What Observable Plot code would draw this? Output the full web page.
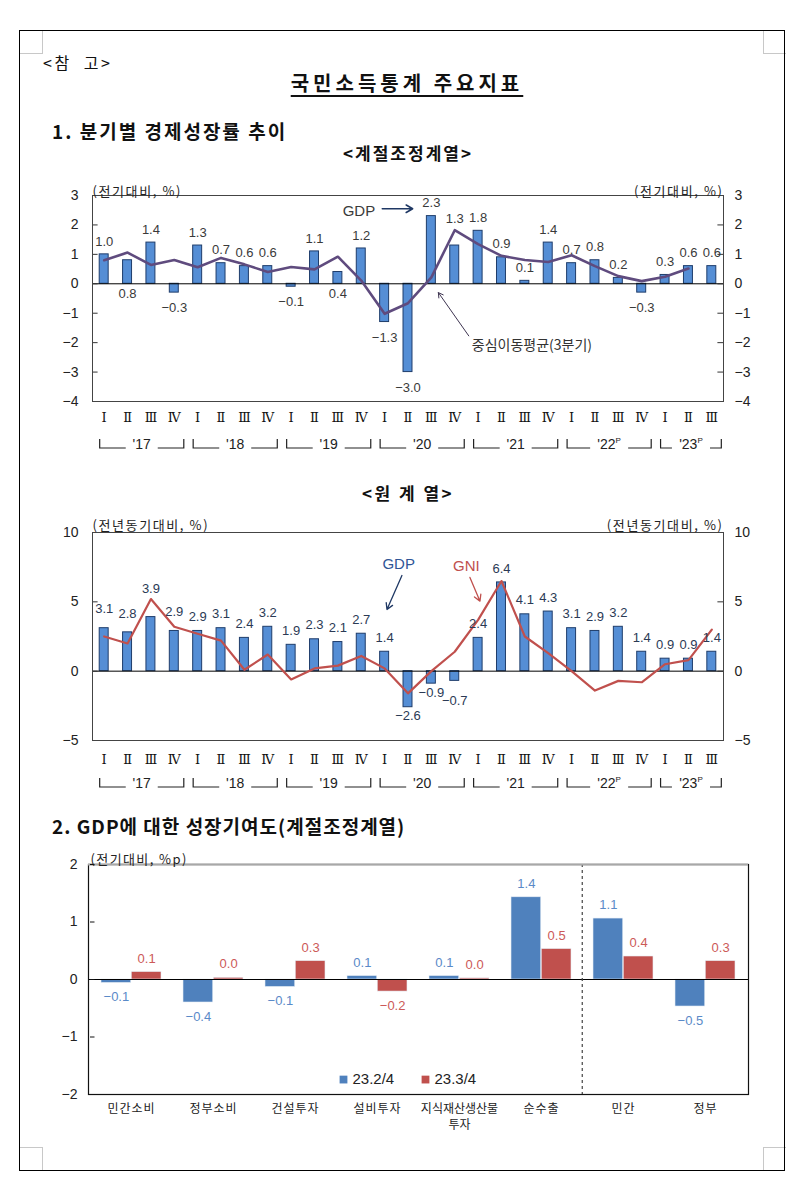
<!DOCTYPE html>
<html><head><meta charset="utf-8">
<script src="https://cdn.jsdelivr.net/npm/d3@7"></script>
<script src="https://cdn.jsdelivr.net/npm/@observablehq/plot@0.6"></script>
<style>
html,body{margin:0;padding:0;background:#fff;}
body{width:806px;height:1191px;position:relative;overflow:hidden;font-family:"Noto Sans CJK KR","Noto Sans",sans-serif;color:#111;}
.abs{position:absolute;white-space:nowrap;line-height:1;}
.chart{position:absolute;left:0;}
.border{position:absolute;left:19px;top:30px;width:766px;height:1141px;border:1px solid #000;box-sizing:border-box;pointer-events:none;z-index:5;}
.corner{position:absolute;width:23px;height:23px;border:1px solid #c8c8c8;box-sizing:border-box;pointer-events:none;z-index:4;}
</style></head>
<body>
<div class="border"></div>
<div class="corner" style="left:20px;top:31px;border-left:none;border-top:none;"></div>
<div class="corner" style="left:763px;top:31px;border-right:none;border-top:none;"></div>
<div class="corner" style="left:20px;top:1147px;border-left:none;border-bottom:none;"></div>
<div class="corner" style="left:763px;top:1147px;border-right:none;border-bottom:none;"></div>

<div class="abs" style="left:43px;top:54px;font-size:16px;letter-spacing:2.5px;">&lt;참&nbsp;&nbsp;고&gt;</div>
<div class="abs" style="left:4px;width:806px;text-align:center;top:73px;font-size:20px;font-weight:bold;letter-spacing:4px;text-decoration:underline;text-underline-offset:4px;">국민소득통계 주요지표</div>
<div class="abs" style="left:52px;top:121px;font-size:19px;font-weight:bold;letter-spacing:2px;">1. 분기별 경제성장률 추이</div>
<div class="abs" style="left:2px;width:812px;text-align:center;top:144px;font-size:17px;font-weight:bold;letter-spacing:2px;">&lt;계절조정계열&gt;</div>
<div id="c1" class="chart" style="top:170px;"></div>
<div class="abs" style="left:2px;width:812px;text-align:center;top:484px;font-size:17px;font-weight:bold;letter-spacing:2.5px;">&lt;원 계 열&gt;</div>
<div id="c2" class="chart" style="top:505px;"></div>
<div class="abs" style="left:52px;top:816px;font-size:19px;font-weight:bold;letter-spacing:1px;">2. GDP에 대한 성장기여도(계절조정계열)</div>
<div id="c3" class="chart" style="top:840px;"></div>

<script>
// ---------------- DATA ----------------
const quarters = ["17Q1","17Q2","17Q3","17Q4","18Q1","18Q2","18Q3","18Q4","19Q1","19Q2","19Q3","19Q4","20Q1","20Q2","20Q3","20Q4","21Q1","21Q2","21Q3","21Q4","22Q1","22Q2","22Q3","22Q4","23Q1","23Q2","23Q3"];
const quarterTicks = ["Ⅰ","Ⅱ","Ⅲ","Ⅳ"];
const yearLabels = ["'17","'18","'19","'20","'21","'22","'23"];
const yearPrelim = [false,false,false,false,false,true,true];

// 1. seasonally adjusted q/q growth (%)
const saGrowth = [1.0,0.8,1.4,-0.3,1.3,0.7,0.6,0.6,-0.1,1.1,0.4,1.2,-1.3,-3.0,2.3,1.3,1.8,0.9,0.1,1.4,0.7,0.8,0.2,-0.3,0.3,0.6,0.6];
// centred 3-quarter moving average (17Q1 .. 23Q2)
const saMovingAvg = [0.80,1.06,0.64,0.81,0.56,0.88,0.66,0.40,0.57,0.49,0.92,0.11,-1.02,-0.66,0.22,1.82,1.35,0.95,0.81,0.74,0.97,0.60,0.26,0.09,0.24,0.52];
const saTicks = [-4,-3,-2,-1,0,1,2,3];

// 2. original series y/y growth (%)
const yoyGDP = [3.1,2.8,3.9,2.9,2.9,3.1,2.4,3.2,1.9,2.3,2.1,2.7,1.4,-2.6,-0.9,-0.7,2.4,6.4,4.1,4.3,3.1,2.9,3.2,1.4,0.9,0.9,1.4];
const yoyGNI = [2.5,2.0,5.2,3.2,2.7,2.2,0.1,1.2,-0.6,0.2,0.4,1.1,0.2,-1.6,0.0,1.4,3.7,6.5,2.5,1.3,0.0,-1.4,-0.7,-0.8,0.5,0.8,3.0];
const yoyTicks = [-5,0,5,10];

// 3. contributions to GDP growth (%p)
const contribCats = ["민간소비","정부소비","건설투자","설비투자","지식재산생산물\n투자","순수출","민간","정부"];
const contribSeries = ["23.2/4","23.3/4"];
const contribQ2 = [-0.06,-0.40,-0.13,0.06,0.06,1.43,1.06,-0.47];
const contribQ3 = [0.13,0.03,0.32,-0.21,0.02,0.53,0.40,0.32];
const contribTicks = [-2,-1,0,1,2];

// label placement tweaks (which labels sit elsewhere than just above/below their bar)
const sa_labelUnderAxis = ["17Q2","19Q3"];
const sa_labelRaised = ["20Q4"];
const yoy_labelRaised = ["17Q1","17Q2","17Q4"];
const yoy_labelRaisedMore = ["17Q3"];
const yoy_labelLowered = ["20Q4"];

// annotations (data coordinates: x = quarter index, y = value)
const saAnnot = {gdpText:{x:10.9,y:2.46}, gdpArrow:{x1:11.9,y1:2.55,x2:13.2,y2:2.55},
                 maText:{x:15.73,y:-2.11}, maArrow:{x1:15.6,y1:-1.77,x2:14.3,y2:-0.30}};
const yoyAnnot = {gdpText:{x:12.6,y:7.74}, gdpArrow:{x1:12.74,y1:6.9,x2:12.1,y2:4.45},
                  gniText:{x:15.5,y:7.57}, gniArrow:{x1:15.65,y1:6.76,x2:16.08,y2:5.05}};

// ---------------- HELPERS ----------------
const NUM = "'Liberation Sans', Arial, sans-serif";
const KR = "'Noto Sans CJK KR', sans-serif";
const ROMAN = "'DejaVu Serif', 'Noto Sans CJK KR', serif";
const minus = s => String(s).replace("-", "−");
const f1 = v => minus(v.toFixed(1));
const rows = vals => vals.map((v, i) => ({q: quarters[i], i, v}));

function spaceUnits(svg, spacing) {
  d3.select(svg).selectAll("text").filter(function() { return /^\(/.test(this.textContent); })
    .attr("letter-spacing", spacing);
}

function yearBrackets(offsetY) {
  return (index, scales, values, dims) => {
    const x = scales.x;
    const yl = dims.height - dims.marginBottom + offsetY;
    const g = d3.create("svg:g");
    yearLabels.forEach((lab, k) => {
      const yy = lab.slice(1);
      const idx = quarters.map((q, i) => q.startsWith(yy) ? i : -1).filter(i => i >= 0);
      const xl = x(idx[0]) - 4, xr = x(idx[idx.length - 1]) + 10, xm = (xl + xr) / 2;
      const half = (yearPrelim[k] ? 12 : 9) + 7;
      g.append("path").attr("fill", "none").attr("stroke", "#222").attr("stroke-width", 1.2)
        .attr("d", `M${xl},${yl - 9}V${yl}H${xm - half}M${xm + half},${yl}H${xr}V${yl - 9}`);
      const t = g.append("text").attr("x", xm).attr("y", yl + 1).attr("text-anchor", "middle")
        .attr("fill", "#222").attr("font-family", NUM).attr("font-size", 14).text(lab);
      if (yearPrelim[k]) t.append("tspan").attr("font-size", 8).attr("dy", -6).text("P");
    });
    return g.node();
  };
}

function quarterAxis(dy) {
  return Plot.text(quarters, {x: (d, i) => i, frameAnchor: "bottom", dy,
    text: d => quarterTicks[+d.slice(-1) - 1], fontFamily: ROMAN, fontSize: 13, fill: "#111"});
}

function yAxisBoth(ticks, xDomain, tickLen, fmt) {
  return [
    Plot.text(ticks, {y: d => d, frameAnchor: "left", dx: -14, textAnchor: "end", text: fmt, fontFamily: NUM, fontSize: 14, fill: "#222"}),
    Plot.text(ticks, {y: d => d, frameAnchor: "right", dx: 11, textAnchor: "start", text: fmt, fontFamily: NUM, fontSize: 14, fill: "#222"}),
    Plot.ruleY(ticks, {y: d => d, x1: xDomain[0], x2: xDomain[0] + tickLen, stroke: "#333"}),
    Plot.ruleY(ticks, {y: d => d, x1: xDomain[1] - tickLen, x2: xDomain[1], stroke: "#333"})
  ];
}

const xDomain = [-0.5, quarters.length - 0.5];
const barInset = 7.2;

// ---------------- CHART 1 ----------------
{
  const data = rows(saGrowth);
  const ma = saMovingAvg.map((v, i) => ({i, v}));
  const above = data.filter(d => d.v >= 0 && !sa_labelUnderAxis.includes(d.q) && !sa_labelRaised.includes(d.q));
  const below = data.filter(d => d.v < 0);
  const under = data.filter(d => sa_labelUnderAxis.includes(d.q));
  const raised = data.filter(d => sa_labelRaised.includes(d.q));
  const lab = {text: d => f1(d.v), fontFamily: NUM, fontSize: 13, fill: "#3a3a3a", x: "i"};
  const chart = Plot.plot({
    width: 806, height: 300, marginLeft: 92, marginRight: 83, marginTop: 25, marginBottom: 69,
    style: {background: "transparent", overflow: "visible"},
    x: {domain: xDomain, axis: null},
    y: {domain: [-4, 3], axis: null},
    marks: [
      Plot.rect(data, {x1: d => d.i - 0.5, x2: d => d.i + 0.5, y1: 0, y2: "v", insetLeft: barInset, insetRight: barInset, fill: "#558ED5", stroke: "#1F3D6B", strokeWidth: 1}),
      Plot.ruleY([0], {stroke: "#000", strokeWidth: 1}),
      Plot.line(ma, {x: "i", y: "v", stroke: "#5F4B7E", strokeWidth: 2.6, strokeLinejoin: "round"}),
      Plot.text(above, {...lab, y: "v", dy: -13}),
      Plot.text(raised, {...lab, y: "v", dy: -27}),
      Plot.text(below, {...lab, y: "v", dy: 15.5}),
      Plot.text(under, {...lab, y: 0, dy: 10}),
      ...yAxisBoth(saTicks, xDomain, 0.24, d => minus(d)),
      Plot.frame({stroke: "#444", strokeWidth: 1}),
      Plot.text(["(전기대비, %)"], {frameAnchor: "top-left", dy: -9, textAnchor: "start", fontFamily: KR, fontSize: 13, fill: "#222"}),
      Plot.text(["(전기대비, %)"], {frameAnchor: "top-right", dy: -9, textAnchor: "end", fontFamily: KR, fontSize: 13, fill: "#222"}),
      Plot.text([saAnnot.gdpText], {x: "x", y: "y", text: () => "GDP", fontFamily: NUM, fontSize: 15, fill: "#3a3a3a"}),
      Plot.arrow([saAnnot.gdpArrow], {x1: "x1", y1: "y1", x2: "x2", y2: "y2", stroke: "#1F3864", strokeWidth: 1.6, headLength: 7}),
      Plot.text([saAnnot.maText], {x: "x", y: "y", text: () => "중심이동평균(3분기)", textAnchor: "start", fontFamily: KR, fontSize: 14, fill: "#333"}),
      Plot.arrow([saAnnot.maArrow], {x1: "x1", y1: "y1", x2: "x2", y2: "y2", stroke: "#3E3551", strokeWidth: 1, headLength: 8}),
      quarterAxis(20),
      yearBrackets(47)
    ]
  });
  spaceUnits(chart, 1.6);
  document.getElementById("c1").append(chart);
}

// ---------------- CHART 2 ----------------
{
  const data = rows(yoyGDP);
  const gni = rows(yoyGNI);
  const special = [...yoy_labelRaised, ...yoy_labelRaisedMore, ...yoy_labelLowered];
  const above = data.filter(d => d.v >= 0 && !special.includes(d.q));
  const raised = data.filter(d => yoy_labelRaised.includes(d.q));
  const raisedMore = data.filter(d => yoy_labelRaisedMore.includes(d.q));
  const below = data.filter(d => d.v < 0 && !special.includes(d.q));
  const lowered = data.filter(d => yoy_labelLowered.includes(d.q));
  const lab = {text: d => f1(d.v), fontFamily: NUM, fontSize: 13, fill: "#2B3A55", x: "i", y: "v"};
  const chart = Plot.plot({
    width: 806, height: 300, marginLeft: 92, marginRight: 83, marginTop: 27, marginBottom: 65,
    style: {background: "transparent", overflow: "visible"},
    x: {domain: xDomain, axis: null},
    y: {domain: [-5, 10], axis: null},
    marks: [
      Plot.rect(data, {x1: d => d.i - 0.5, x2: d => d.i + 0.5, y1: 0, y2: "v", insetLeft: barInset, insetRight: barInset, fill: "#558ED5", stroke: "#1F3D6B", strokeWidth: 1}),
      Plot.ruleY([0], {stroke: "#000", strokeWidth: 1}),
      Plot.line(gni, {x: "i", y: "v", stroke: "#C0504D", strokeWidth: 2.2, strokeLinejoin: "round"}),
      Plot.text(above, {...lab, dy: -14}),
      Plot.text(raised, {...lab, dy: -19}),
      Plot.text(raisedMore, {...lab, dy: -28}),
      Plot.text(below, {...lab, dy: 9}),
      Plot.text(lowered, {...lab, dy: 20}),
      ...yAxisBoth(yoyTicks, xDomain, 0.24, d => minus(d)),
      Plot.frame({stroke: "#444", strokeWidth: 1}),
      Plot.text(["(전년동기대비, %)"], {frameAnchor: "top-left", dy: -12, textAnchor: "start", fontFamily: KR, fontSize: 13, fill: "#222"}),
      Plot.text(["(전년동기대비, %)"], {frameAnchor: "top-right", dy: -12, textAnchor: "end", fontFamily: KR, fontSize: 13, fill: "#222"}),
      Plot.text([yoyAnnot.gdpText], {x: "x", y: "y", text: () => "GDP", fontFamily: NUM, fontSize: 15, fill: "#2F5597"}),
      Plot.arrow([yoyAnnot.gdpArrow], {x1: "x1", y1: "y1", x2: "x2", y2: "y2", stroke: "#1F3864", strokeWidth: 1.3, headLength: 8}),
      Plot.text([yoyAnnot.gniText], {x: "x", y: "y", text: () => "GNI", fontFamily: NUM, fontSize: 15, fill: "#C0504D"}),
      Plot.arrow([yoyAnnot.gniArrow], {x1: "x1", y1: "y1", x2: "x2", y2: "y2", stroke: "#C0504D", strokeWidth: 1.3, headLength: 8}),
      quarterAxis(23),
      yearBrackets(47)
    ]
  });
  spaceUnits(chart, 1.6);
  document.getElementById("c2").append(chart);
}

// ---------------- CHART 3 ----------------
{
  const colors = ["#4F81BD", "#C0504D"];
  const labColors = ["#5A8AC8", "#CC5A58"];
  const series = [contribQ2, contribQ3];
  const bw = (806 - 88 - 58) / contribCats.length;
  const half = bw / 2, outer = 11;
  const marks = [];
  series.forEach((vals, s) => {
    const data = vals.map((v, i) => ({c: contribCats[i], v}));
    const inset = s === 0 ? {insetLeft: outer, insetRight: half} : {insetLeft: half, insetRight: outer};
    const dx = (s === 0 ? -1 : 1) * (half - outer) / 2;
    marks.push(Plot.barY(data, {x: "c", y: "v", fill: colors[s], stroke: "#e8eef6", strokeWidth: 0.6, ...inset}));
    marks.push(Plot.text(data.filter(d => d.v >= 0), {x: "c", y: "v", dx, dy: -13.5, text: d => f1(d.v), fontFamily: NUM, fontSize: 13, fill: labColors[s]}));
    marks.push(Plot.text(data.filter(d => d.v < 0), {x: "c", y: "v", dx, dy: 14, text: d => f1(d.v), fontFamily: NUM, fontSize: 13, fill: labColors[s]}));
  });
  const legendAnchor = ["설비투자", "지식재산생산물\n투자"];
  const chart = Plot.plot({
    width: 806, height: 300, marginLeft: 88, marginRight: 58, marginTop: 24, marginBottom: 46,
    style: {background: "transparent", overflow: "visible"},
    x: {domain: contribCats, padding: 0, axis: null},
    y: {domain: [-2, 2], axis: null},
    marks: [
      ...marks,
      Plot.ruleY([0], {stroke: "#000", strokeWidth: 1}),
      Plot.ruleX([contribCats[6]], {x: d => d, dx: -half, stroke: "#444", strokeWidth: 1.2, strokeDasharray: "3,3"}),
      Plot.frame({stroke: "#111", strokeWidth: 1.2}),
      Plot.ruleY([2], {stroke: "#a8a8a8", strokeWidth: 2}),
      Plot.tickY(contribTicks, {y: d => d, x: () => contribCats[0], insetRight: bw - 5, stroke: "#111"}),
      Plot.text(contribTicks, {y: d => d, frameAnchor: "left", dx: -11, textAnchor: "end", text: d => minus(d), fontFamily: NUM, fontSize: 14, fill: "#222"}),
      Plot.text(contribCats, {x: d => d, frameAnchor: "bottom", dy: 7, lineAnchor: "top", lineHeight: 1.35, text: d => d, fontFamily: KR, fontSize: 12, fill: "#222"}),
      Plot.text(["(전기대비, %p)"], {frameAnchor: "top-left", dy: -9.5, dx: 2, textAnchor: "start", fontFamily: KR, fontSize: 13, fill: "#222"}),
      Plot.dot(contribSeries, {x: (d, i) => legendAnchor[i], y: () => -1.74, dx: -34, symbol: "square", r: 4.4, fill: (d, i) => colors[i], stroke: "none"}),
      Plot.text(contribSeries, {x: (d, i) => legendAnchor[i], y: () => -1.74, dx: -25, textAnchor: "start", text: d => d, fontFamily: NUM, fontSize: 15, fill: "#222"})
    ]
  });
  spaceUnits(chart, 1.4);
  d3.select(chart).selectAll("text").filter(function() {
    const t = this.textContent;
    return /[가-힣]/.test(t) && !/^\(/.test(t) && t.length <= 6;
  }).attr("letter-spacing", 1);
  document.getElementById("c3").append(chart);
}
</script>
</body></html>
